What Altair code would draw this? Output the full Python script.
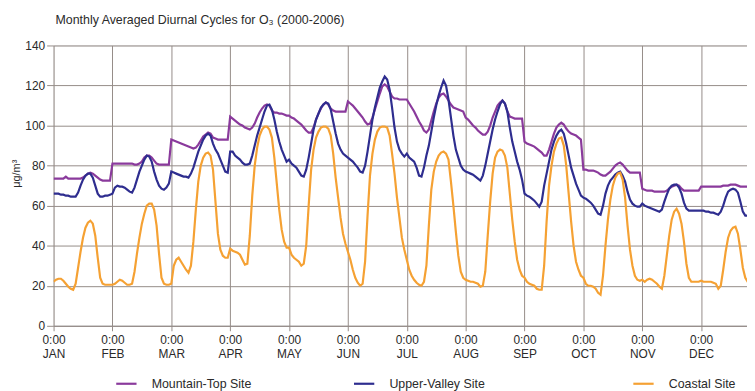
import json
import altair as alt
import pandas as pd

months = ["JAN", "FEB", "MAR", "APR", "MAY", "JUN", "JUL", "AUG", "SEP", "OCT", "NOV", "DEC"]

# Hourly (0..23) monthly-averaged values, one list per month
mountain_top = [
    [73.5,73.5,73.5,73.5,73.5,74.5,73.5,73.5,73.5,73.5,73.5,73.5,74,75,76,76.5,76,75,74,73,72.5,72.5,72.5,72.5],
    [81,81,81,81,81,81,81,81,81,80.5,80.5,81,82,84,85,85,84,82.5,81,80.5,80.5,80.5,80.5,80.5],
    [93,92.5,92,91.5,91,90.5,90,89.5,89,88.5,89,90.5,92.5,94.5,95.5,96.5,96,94,93.5,93,93,93,93,93],
    [104.5,103.5,102.5,101.5,100.5,100,99,98.5,98,99,101,104,106.5,108.5,110,110.5,110,107.5,106.5,106.5,106,106,105.5,105],
    [105,104,103.5,102.5,101.5,100.5,99,97.5,96.5,96.5,99,103,106,108.5,110.5,111.5,110.5,108.5,107.5,107,107,107,107,107],
    [112,111,110,108.5,107,105.5,104,102,100.5,101,104,108,112,116,119.5,120.5,119.5,117,114.5,113.5,113.5,113,113,113],
    [113,111,109,107,104.5,102,100,97.5,96.5,98,102.5,107,111,114,115.5,116,114.5,112.5,110.5,109,108.5,108,107.5,107],
    [104,103,101.5,100,99,97.5,96.5,95.5,95.5,97,100,104,107,110,111.5,112.5,111,107,104.5,104,103.5,103.5,103.5,103.5],
    [92,91,90.5,90,89.5,88.5,87.5,86.5,85,85,88,92,96,99,100.5,101.5,100.5,98.5,97,96,95.5,95,94,93],
    [78,78,77.5,77.5,77.5,77,76.5,75.5,75,75,76,77,78.5,80,81,81.5,80.5,79,77.5,76.5,76.5,76.5,76.5,76.5],
    [68.5,68,67.5,67.5,67.5,67,67,67,67,67,67.5,68.5,69.5,70,70.5,70,68.5,67.5,67.5,67.5,67.5,67.5,67.5,67.5],
    [69.5,69.5,69.5,69.5,69.5,69.5,69.5,69.5,69.5,70,70,70,70.5,70.5,70.5,70,69.5,69.5,69.5,69.5,69.5,69.5,69.5,69.5],
]

upper_valley = [
    [66,66,66,65.5,65.5,65,65,64.5,64.5,64.5,66.5,70,73,75,76,76,74,70,66,64.5,64.5,65,65,65.5],
    [66,69,70,69.5,69.5,69,68,67,66.5,69,73,77,80,83,85,84.5,82,77,73,70,68.5,68,69,71],
    [77,76.5,76,75.5,75,74.5,74.5,74,76,79,83,87,90,93,95,96,95,91,88,86,83,80,77,76.5],
    [87,87,85,84,83,81.5,80.5,80.5,81,85,90,95,99,103,107,110,110.5,108,103,97,92,88,85,82],
    [83,81,80,79,77,75,74.5,78,84,91,98,103,106,109,110.5,111.5,111,108,102,96,91,88,86,85],
    [84,83,82,80.5,79,77,76.5,80,87,95,103,109,114,119,122,124.5,123,118,109,99,92,88,86,84.5],
    [86,84,83,82,79,75,74.5,79,85,90,97,104,110,115,119,122.5,120,113,104,95,88,84,80,78],
    [77,76.5,76,75.5,74.5,73.5,72.5,75,80,86,92,98,103,107,110.5,112.5,111,107,99,92,87,82,78,73],
    [66,65,64.5,63.5,62.5,61,59.5,62,70,76,82,88,92,95,97,98,96,91,85,79,75,71,68,65],
    [64,63.5,62.5,61.5,60,58,56,55.5,60,66,70,72.5,74,75.5,76.5,77,75,72,67,63,61,60,59.5,59.5],
    [61,60,59.5,59,58.5,58,57.5,57,58,62,65.5,68.5,70,70.5,70.5,69,66,61.5,58.5,57.5,57.5,57.5,57.5,57.5],
    [57.5,57.5,57,57,56.5,56.5,56,55.5,57,60,64,67,68,68.5,68,66.5,62,57,55,55,55,55,55,55],
]

coastal = [
    [22,23,23.5,23.5,22.5,21,19.5,18.5,18,21,29,37,44,49,51.5,52.5,51,45,34,24,21,20.5,20.5,20.5],
    [20.5,21,22,23,22.5,21.5,20.5,20.5,21,27,36,44,51,56,60,61,61,58,50,36,24,21,20.5,20.5],
    [21,30,33,34,32,30,28,26.5,30,42,58,72,80,84,86,86.5,85,78,62,46,38,35,34,34],
    [38.5,37.5,37,36.5,35.5,33,30.5,31,45,65,80,89,95,98,99.5,99.5,98,94,84,71,58,48,42,39],
    [39,35.5,34,33,32,30,31,40,60,78,88,94,97,99,99.5,99.5,98.5,95,86,74,64,54,46,41],
    [37,33,28,24,21.5,20,21,32,55,75,86,93,97,99,99.5,99.5,99,95,86,76,64,54,44,38],
    [33,28,25,23,21.5,20.5,20,22,30,50,68,77,82,85,86.5,87,86,83,72,60,47,35,27,24],
    [23,22.5,22,22,21.5,21,19.5,20,27,45,62,76,84,87,88,87.5,85,79,66,53,42,33,28,25],
    [24,22,21,20.5,20,18.5,18,18,30,52,70,80,87,91,93.5,94,90,80,66,52,40,32,28,25],
    [24,21,20,20,19.5,18.5,16.5,15.5,25,40,53,63,70,74,76,76.5,73,64,50,38,30,25,23,22.5],
    [23,22,23,23.5,23,22,21,19.5,18.5,25,35,45,53,57,58.5,56,51,42,31,24,22,22,22,22],
    [22.5,22,22,22,22,21.5,21,18.5,20,28,37,44,47.5,49,49.5,46,38,29,24,22,22,21.5,21.5,21.5],
]

series_names = ["Mountain-Top Site", "Upper-Valley Site", "Coastal Site"]
series_colors = ["#8A3A9C", "#2E2D8F", "#F5A133"]
legend_x = [62, 302, 584]

rows = []
for name, data in zip(series_names, [mountain_top, upper_valley, coastal]):
    for m, vals in enumerate(data):
        for h, v in enumerate(vals):
            rows.append({"series": name, "t": m * 24 + h, "value": v})
df = pd.DataFrame(rows)

FONT = "Liberation Sans, Arial, sans-serif"
GRID = "#958c88"
TEXT = "#2a2a2a"

label_expr = "['0:00', " + json.dumps(months) + "[round(datum.value / 24)]]"

x_enc = alt.X(
    "t:Q",
    scale=alt.Scale(domain=[0, 282.7], nice=False, zero=False),
    axis=alt.Axis(
        values=[m * 24 for m in range(12)],
        labelExpr=label_expr,
        title=None,
        grid=True,
        gridColor=GRID,
        gridWidth=1,
        domainColor=GRID,
        tickColor=GRID,
        tickSize=5,
        labelBaseline="top",
        labelLineHeight=14,
        labelPadding=4,
        labelFont=FONT,
        labelFontSize=12,
        labelColor=TEXT,
        labelOverlap=False,
        labelFlush=False,
    ),
)
y_enc = alt.Y(
    "value:Q",
    scale=alt.Scale(domain=[0, 140], nice=False),
    axis=alt.Axis(
        values=list(range(0, 141, 20)),
        title="μg/m³",
        titleFont=FONT,
        titleFontSize=11,
        titleFontWeight="normal",
        titleColor=TEXT,
        titleAngle=270,
        titleX=-37,
        titleY=129,
        titleAlign="center",
        titleBaseline="middle",
        grid=True,
        gridColor=GRID,
        gridWidth=1,
        domain=False,
        tickColor=GRID,
        tickSize=7,
        labelPadding=2,
        labelFont=FONT,
        labelFontSize=12,
        labelColor=TEXT,
    ),
)

layers = []
for name, color, lx in zip(series_names, series_colors, legend_x):
    layers.append(
        alt.Chart(df)
        .transform_filter(alt.datum.series == name)
        .mark_line(strokeWidth=2.2, clip=True)
        .encode(
            x=x_enc,
            y=y_enc,
            color=alt.Color(
                "series:N",
                scale=alt.Scale(domain=[name], range=[color]),
                legend=alt.Legend(
                    orient="none",
                    legendX=lx,
                    legendY=330,
                    title=None,
                    symbolType="stroke",
                    symbolSize=420,
                    symbolStrokeWidth=2.2,
                    labelOffset=14,
                    labelFont=FONT,
                    labelFontSize=12.5,
                    labelColor=TEXT,
                    padding=0,
                ),
            ),
        )
    )

chart = (
    alt.layer(*layers)
    .resolve_scale(color="independent")
    .properties(
        width=700,
        height=283,
        autosize=alt.AutoSizeParams(type="none"),
        padding={"left": 46, "top": 36, "right": 0, "bottom": 64},
        title=alt.TitleParams(
            text="Monthly Averaged Diurnal Cycles for O₃ (2000-2006)",
            anchor="start",
            font=FONT,
            fontSize=12.5,
            fontWeight="normal",
            color=TEXT,
            baseline="bottom",
            offset=15,
            dx=45,
            dy=15,
        ),
    )
    .configure_view(stroke=None)
    .configure(background="white")
)

chart.save("out.html", embed_options={"renderer": "svg", "actions": False})
